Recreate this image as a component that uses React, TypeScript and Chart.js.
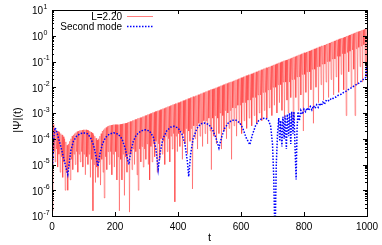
import React, { useEffect, useRef } from 'react';
import { Chart, registerables } from 'chart.js';

Chart.register(...registerables);

// ---------- data ----------
const X_TICKS = [0, 200, 400, 600, 800, 1000];
const Y_EXPONENTS = [1, 0, -1, -2, -3, -4, -5, -6, -7];
const X_TITLE = 't';
const Y_TITLE = '|Ψ|(t)';
const SERIES1_LABEL = 'L=2.20';
const SERIES2_LABEL = 'Second mode';

// L=2.20: fast oscillation, log10 of |Ψ| at the maxima (t = 0, 4, 8, ...)
// and at the minima in between (t = 2, 6, 10, ...)
const RED_STEP = 4;
const redPeakLog10 = [
  -3.2, -3.45, -3.6, -3.65, -3.7, -3.72, -3.75, -3.8, -3.85, -3.92,
  -4.0, -4.12, -4.25, -4.2, -4.1, -4.0, -3.9, -3.85, -3.8, -3.76,
  -3.72, -3.7, -3.68, -3.67, -3.66, -3.65, -3.65, -3.65, -3.66, -3.68,
  -3.7, -3.74, -3.78, -3.84, -3.9, -3.98, -4.05, -4.0, -3.9, -3.8,
  -3.7, -3.65, -3.6, -3.56, -3.52, -3.5, -3.48, -3.47, -3.46, -3.45,
  -3.45, -3.45, -3.45, -3.45, -3.44, -3.43, -3.42, -3.41, -3.4, -3.39,
  -3.37, -3.35,
  -3.33, -3.32, -3.29, -3.28, -3.25, -3.24, -3.21, -3.2, -3.18, -3.17,
  -3.14, -3.13, -3.1, -3.09, -3.06, -3.05, -3.02, -3.01, -2.98, -2.97,
  -2.94, -2.93, -2.91, -2.9, -2.87, -2.86, -2.83, -2.82, -2.79, -2.78,
  -2.75, -2.74, -2.71, -2.7, -2.67, -2.66, -2.63, -2.63, -2.6, -2.59,
  -2.56, -2.55, -2.52, -2.51, -2.48, -2.47, -2.44, -2.43, -2.4, -2.39,
  -2.36, -2.36, -2.33, -2.32, -2.29, -2.28, -2.25, -2.24, -2.21, -2.2,
  -2.17, -2.16, -2.13, -2.12, -2.09, -2.08, -2.06, -2.05, -2.02, -2.01,
  -1.98, -1.97, -1.94, -1.93, -1.9, -1.89, -1.86, -1.85, -1.82, -1.81,
  -1.79, -1.78, -1.75, -1.74, -1.71, -1.7, -1.67, -1.66, -1.63, -1.62,
  -1.59, -1.58, -1.55, -1.54, -1.51, -1.51, -1.48, -1.47, -1.44, -1.43,
  -1.4, -1.39, -1.36, -1.35, -1.32, -1.31, -1.28, -1.27, -1.24, -1.24,
  -1.21, -1.2, -1.17, -1.16, -1.13, -1.12, -1.09, -1.08, -1.05, -1.04,
  -1.01, -1.0, -0.97, -0.96, -0.94, -0.93, -0.9, -0.89, -0.86, -0.85,
  -0.82, -0.81, -0.78, -0.77, -0.74, -0.73, -0.7, -0.69, -0.66, -0.66,
  -0.63, -0.62, -0.59, -0.58, -0.55, -0.54, -0.51, -0.5, -0.47, -0.46,
  -0.43, -0.42, -0.39, -0.39, -0.36, -0.35, -0.32, -0.31, -0.28, -0.27,
  -0.24, -0.23, -0.2, -0.19, -0.16, -0.15, -0.12, -0.11, -0.09, -0.08,
  -0.05, -0.04, -0.01, 0.0, 0.03, 0.04, 0.07, 0.08, 0.11, 0.12,
  0.15, 0.16, 0.18, 0.19, 0.22, 0.23, 0.26, 0.27, 0.3,
];
const redTroughLog10 = [
  -6.8, -4.5, -4.9, -4.4, -5.1, -4.6, -5.3, -4.7, -5.5, -4.9,
  -6.0, -5.3, -6.0, -5.1, -5.6, -4.8, -5.2, -4.6, -5.0, -4.5,
  -5.3, -4.6, -4.9, -4.5, -5.1, -4.6, -5.4, -4.7, -5.0, -4.6,
  -5.5, -4.8, -6.8, -5.0, -5.7, -5.1, -5.5, -4.9, -5.8, -4.8,
  -5.3, -6.3, -4.7, -5.2, -4.5, -5.0, -4.5, -5.4, -4.6, -5.1,
  -4.5, -5.6, -4.7, -6.8, -4.8, -5.6, -4.6, -6.2, -4.7, -5.3,
  -4.6, -6.85,
  -4.6, -5.2, -4.4, -5.0, -4.5, -5.4, -6.0, -4.4, -4.9, -4.3,
  -5.1, -4.4, -4.8, -4.2, -5.0, -5.6, -4.3, -4.9, -4.2, -4.7,
  -4.1, -5.3, -4.2, -4.8, -4.0, -4.6, -4.1, -5.0, -3.9, -4.5,
  -4.0, -4.9, -3.9, -4.4, -3.8, -6.45, -3.9, -4.5, -3.8, -4.3,
  -3.7, -4.8, -3.8, -4.2, -3.6, -4.6, -3.7, -4.1, -3.6, -5.95,
  -3.5, -4.0, -3.5, -4.4, -3.4, -3.9, -3.4, -4.3, -3.3, -3.8,
  -3.3, -4.2, -3.2,
  -3.7, -5.2, -3.2, -3.9, -3.1, -4.2, -3.2, -3.8, -3.0, -4.4,
  -3.1, -3.7, -2.9, -4.0, -3.0, -3.6, -2.9, -4.8, -2.8, -3.5,
  -2.8, -3.9, -2.7, -3.4, -2.7, -3.8, -2.6, -3.3, -2.6, -3.6,
  -2.5, -3.2, -2.5, -3.5, -2.4, -3.1, -2.4, -3.4, -2.3, -3.0,
  -2.3, -3.3, -2.2, -2.9, -2.2, -3.2, -2.1, -2.8, -2.1, -3.1,
  -2.0, -2.7, -2.0, -3.0, -1.9, -2.6, -1.9, -2.9, -1.8, -3.2,
  -1.8, -2.5,
  -3.0, -1.8, -2.4, -1.7, -3.3, -1.7, -2.4, -1.6, -2.9, -1.6,
  -2.3, -1.5, -3.7, -1.5, -2.2, -1.4, -2.8, -1.4, -2.1, -1.3,
  -3.4, -1.3, -2.0, -1.2, -2.6, -1.2, -1.9, -1.1, -2.5, -1.1,
  -1.8, -1.0, -2.4, -1.0, -1.7, -0.9, -2.3, -0.9, -1.6, -0.8,
  -2.2, -0.8, -1.5, -0.7, -2.1, -0.7, -3.1, -0.65, -1.4, -0.6,
  -2.0, -0.55, -1.3, -3.1, -0.5, -1.9, -0.45, -1.2, -0.4, -1.8,
  -0.35, -1.1, -1.6,
];

// Second mode: t and log10 |Ψ|
const blueT = [
  0, 2, 4, 6, 10, 14, 20, 28, 36, 44, 50, 54, 60, 68, 78, 90, 100, 112, 122, 132,
  140, 146, 152, 160, 170, 182, 196, 210, 222, 232, 240, 244, 250, 258, 268, 282, 296, 310, 322, 330,
  337, 344, 352, 364, 376, 388, 400, 412, 422, 430, 434, 440, 448, 460, 472, 485, 498, 510, 520, 530,
  538, 548, 560, 572, 584, 596, 606, 616, 628, 636, 646, 656, 666, 676, 686, 694, 700, 704, 708, 712,
  716, 720, 723, 726, 730, 733, 737, 740, 744, 747, 751, 754, 758, 761, 765, 768, 772, 775, 778, 781,
  785, 790, 795, 800, 805, 810, 815, 820, 825, 830, 835, 840, 845, 850, 855, 860, 865, 870, 876, 882,
  888, 895, 902, 910, 918, 926, 934, 942, 950, 958, 966, 974, 982, 990, 996, 1000,
];
const blueLog10 = [
  -3.85, -5.1, -4.5, -3.9, -3.57, -3.7, -3.95, -4.3, -4.7, -5.1, -5.39, -5.0, -4.45, -4.1, -3.9, -3.8, -3.77, -3.8, -3.95, -4.25,
  -4.7, -5.07, -4.6, -4.2, -3.95, -3.82, -3.77, -3.82, -4.0, -4.35, -4.8, -5.0, -4.5, -4.1, -3.85, -3.7, -3.65, -3.7, -3.95, -4.4,
  -5.19, -4.5, -4.0, -3.7, -3.55, -3.52, -3.58, -3.8, -4.2, -4.9, -5.47, -4.6, -4.0, -3.6, -3.42, -3.39, -3.45, -3.65, -3.95, -4.36,
  -3.95, -3.6, -3.38, -3.28, -3.28, -3.38, -3.6, -3.95, -4.23, -3.85, -3.5, -3.3, -3.22, -3.2, -3.25, -3.5, -4.2, -5.5, -8.0, -5.0,
  -3.8, -3.2, -4.1, -3.3, -4.3, -3.15, -4.0, -3.1, -4.4, -3.05, -3.9, -3.0, -4.2, -2.95, -3.8, -2.95, -4.5, -5.58, -3.6, -2.95,
  -3.3, -2.9, -3.05, -2.85, -2.95, -2.8, -2.9, -2.75, -2.88, -2.72, -2.82, -2.68, -2.78, -2.62, -2.72, -2.58, -2.66, -2.52, -2.55, -2.45,
  -2.48, -2.4, -2.38, -2.3, -2.27, -2.2, -2.15, -2.08, -2.02, -1.96, -1.9, -1.84, -1.76, -1.68, -1.62, -1.0,
];

// ---------- chart ----------
const FONT = '"Liberation Sans", Arial, Helvetica, sans-serif';

function buildRed() {
  const pts: { x: number; y: number }[] = [];
  for (let i = 0; i < redPeakLog10.length; i++) {
    pts.push({ x: i * RED_STEP, y: Math.pow(10, redPeakLog10[i]) });
    if (i < redTroughLog10.length) {
      pts.push({ x: i * RED_STEP + RED_STEP / 2, y: Math.pow(10, redTroughLog10[i]) });
    }
  }
  return pts;
}

function buildBlue() {
  return blueT.map((t, i) => ({ x: t, y: Math.pow(10, blueLog10[i]) }));
}

const RED = 'rgba(255,40,40,0.42)';
const BLUE = 'rgb(0,0,255)';

const framePlugin = {
  id: 'gnuplotFrame',
  afterDraw(chart: any) {
    const { ctx, chartArea, scales } = chart;
    const xs = scales.x;
    const ys = scales.y;
    const L = Math.round(chartArea.left);
    const R = Math.round(chartArea.right);
    const T = Math.round(chartArea.top);
    const B = Math.round(chartArea.bottom);
    ctx.save();
    ctx.strokeStyle = '#000';
    ctx.lineWidth = 1;
    ctx.strokeRect(L + 0.5, T + 0.5, R - L, B - T);

    // ticks (inward, mirrored)
    ctx.beginPath();
    X_TICKS.forEach((v) => {
      const px = Math.round(xs.getPixelForValue(v)) + 0.5;
      ctx.moveTo(px, B);
      ctx.lineTo(px, B - 4);
      ctx.moveTo(px, T);
      ctx.lineTo(px, T + 4);
    });
    Y_EXPONENTS.forEach((e) => {
      const py = Math.round(ys.getPixelForValue(Math.pow(10, e))) + 0.5;
      ctx.moveTo(L, py);
      ctx.lineTo(L + 4, py);
      ctx.moveTo(R, py);
      ctx.lineTo(R - 4, py);
      if (e < 1) {
        for (let m = 2; m <= 9; m++) {
          const my = Math.round(ys.getPixelForValue(m * Math.pow(10, e))) + 0.5;
          ctx.moveTo(L, my);
          ctx.lineTo(L + 2, my);
          ctx.moveTo(R, my);
          ctx.lineTo(R - 2, my);
        }
      }
    });
    ctx.stroke();

    ctx.fillStyle = '#000';
    // x labels
    ctx.font = `10px ${FONT}`;
    ctx.textAlign = 'center';
    ctx.textBaseline = 'middle';
    X_TICKS.forEach((v) => {
      ctx.fillText(String(v), xs.getPixelForValue(v), B + 11);
    });
    // y labels 10^e
    Y_EXPONENTS.forEach((e) => {
      const py = ys.getPixelForValue(Math.pow(10, e));
      ctx.font = `10px ${FONT}`;
      ctx.textAlign = 'right';
      ctx.textBaseline = 'middle';
      ctx.fillText('10', L - 9, py + 1.5);
      ctx.font = `7px ${FONT}`;
      ctx.textAlign = 'left';
      ctx.fillText(String(e), L - 8.5, py - 3);
    });
    // axis titles
    ctx.font = `11px ${FONT}`;
    ctx.textAlign = 'center';
    ctx.textBaseline = 'middle';
    ctx.fillText(X_TITLE, (L + R) / 2, 238);
    ctx.save();
    ctx.translate(18, 120);
    ctx.rotate(-Math.PI / 2);
    ctx.fillText(Y_TITLE, 0, 0);
    ctx.restore();

    // legend (gnuplot style: right-aligned text, sample line after)
    ctx.font = `10px ${FONT}`;
    ctx.textAlign = 'right';
    ctx.textBaseline = 'middle';
    ctx.fillText(SERIES1_LABEL, 122, 17);
    ctx.fillText(SERIES2_LABEL, 122, 27);
    ctx.strokeStyle = 'rgba(255,40,40,0.6)';
    ctx.lineWidth = 1;
    ctx.beginPath();
    ctx.moveTo(127, 16.5);
    ctx.lineTo(153, 16.5);
    ctx.stroke();
    ctx.strokeStyle = BLUE;
    ctx.lineWidth = 1.5;
    ctx.setLineDash([1.5, 1.5]);
    ctx.beginPath();
    ctx.moveTo(127, 26.5);
    ctx.lineTo(153, 26.5);
    ctx.stroke();
    ctx.restore();
  },
};

export default function App() {
  const ref = useRef<HTMLCanvasElement | null>(null);
  useEffect(() => {
    if (!ref.current) return;
    const chart = new Chart(ref.current, {
      type: 'line',
      data: {
        datasets: [
          {
            label: SERIES1_LABEL,
            data: buildRed(),
            borderColor: RED,
            borderWidth: 1,
            pointRadius: 0,
            tension: 0,
            order: 2,
          },
          {
            label: SERIES2_LABEL,
            data: buildBlue(),
            borderColor: BLUE,
            borderWidth: 1.5,
            borderDash: [1.5, 1.5],
            pointRadius: 0,
            tension: 0,
            order: 1,
          },
        ],
      },
      options: {
        animation: false,
        responsive: true,
        maintainAspectRatio: false,
        parsing: false,
        layout: { padding: { top: 10, right: 15, left: 0, bottom: 0 } },
        plugins: { legend: { display: false }, tooltip: { enabled: false } },
        events: [],
        scales: {
          x: {
            type: 'linear',
            min: 0,
            max: 1000,
            grid: { display: false },
            border: { display: false },
            ticks: { display: false },
            afterFit: (s: any) => {
              s.height = 29;
            },
          },
          y: {
            type: 'logarithmic',
            min: 1e-7,
            max: 10,
            grid: { display: false },
            border: { display: false },
            ticks: { display: false },
            afterFit: (s: any) => {
              s.width = 52;
            },
          },
        },
      },
      plugins: [framePlugin],
    } as any);
    return () => chart.destroy();
  }, []);
  return (
    <div style={{ position: 'absolute', left: 0, top: 0, width: 382, height: 245 }}>
      <canvas ref={ref} />
    </div>
  );
}
